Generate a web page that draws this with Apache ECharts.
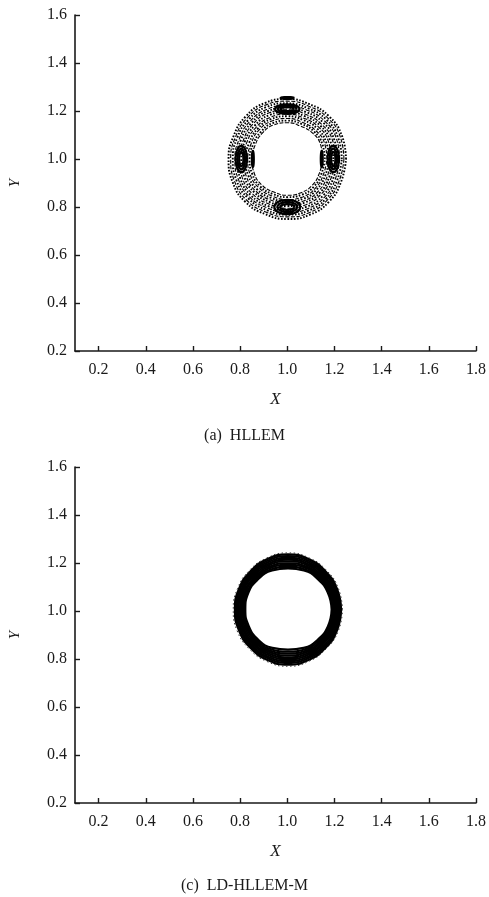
<!DOCTYPE html>
<html>
<head>
<meta charset="utf-8">
<script src="https://cdn.jsdelivr.net/npm/echarts@6/dist/echarts.min.js"></script>
<style>
  html, body { margin: 0; padding: 0; background: #fff; }
  #chart { width: 489px; height: 897px; }
</style>
</head>
<body>
<div id="chart"></div>
<script>
// Tick values shared by both panels
const xTicks = [0.2, 0.4, 0.6, 0.8, 1.0, 1.2, 1.4, 1.6, 1.8];
const yTicks = [0.2, 0.4, 0.6, 0.8, 1.0, 1.2, 1.4, 1.6];

// Contour radii sampled every 22.5 degrees, counter-clockwise from +X
const sampleAngles = [0, 22.5, 45, 67.5, 90, 112.5, 135, 157.5, 180, 202.5, 225, 247.5, 270, 292.5, 315, 337.5];

// (a) HLLEM: ring of density contours around (1.0, 1.0)
const hllemCenter = [1.0, 1.0];
const hllemRings = [
  [0.150, 0.153, 0.152, 0.148, 0.151, 0.153, 0.151, 0.148, 0.150, 0.152, 0.153, 0.149, 0.151, 0.152, 0.152, 0.148],
  [0.159, 0.161, 0.161, 0.158, 0.160, 0.162, 0.159, 0.157, 0.160, 0.161, 0.162, 0.158, 0.159, 0.161, 0.161, 0.157],
  [0.168, 0.171, 0.169, 0.166, 0.169, 0.171, 0.170, 0.166, 0.168, 0.170, 0.170, 0.167, 0.169, 0.171, 0.170, 0.166],
  [0.177, 0.179, 0.179, 0.176, 0.178, 0.180, 0.178, 0.175, 0.178, 0.179, 0.180, 0.176, 0.177, 0.179, 0.178, 0.175],
  [0.186, 0.189, 0.188, 0.184, 0.187, 0.188, 0.187, 0.185, 0.186, 0.188, 0.189, 0.185, 0.187, 0.188, 0.188, 0.184],
  [0.195, 0.197, 0.197, 0.193, 0.196, 0.198, 0.196, 0.194, 0.195, 0.197, 0.197, 0.194, 0.196, 0.196, 0.197, 0.193],
  [0.204, 0.207, 0.205, 0.202, 0.205, 0.207, 0.206, 0.202, 0.204, 0.206, 0.207, 0.203, 0.205, 0.206, 0.205, 0.202],
  [0.213, 0.215, 0.215, 0.211, 0.214, 0.216, 0.214, 0.212, 0.213, 0.215, 0.216, 0.212, 0.213, 0.215, 0.215, 0.211],
  [0.222, 0.225, 0.224, 0.220, 0.223, 0.224, 0.223, 0.220, 0.222, 0.224, 0.225, 0.221, 0.223, 0.224, 0.224, 0.220],
  [0.231, 0.233, 0.233, 0.229, 0.232, 0.234, 0.232, 0.230, 0.231, 0.233, 0.233, 0.230, 0.232, 0.233, 0.233, 0.229],
  [0.240, 0.243, 0.242, 0.238, 0.241, 0.243, 0.241, 0.238, 0.240, 0.242, 0.243, 0.239, 0.241, 0.242, 0.241, 0.238],
  [0.249, 0.251, 0.251, 0.247, 0.250, 0.252, 0.250, 0.247, 0.249, 0.251, 0.252, 0.248, 0.250, 0.251, 0.251, 0.247]
];
// Small closed contours (local extrema) on the ring: centre and semi-axes
const hllemSpotX  = [0.805, 0.805, 0.805, 1.195, 1.195, 1.195, 1.000, 1.000, 1.000, 1.000, 1.000, 1.000, 0.854, 1.146, 1.000];
const hllemSpotY  = [1.000, 1.000, 1.000, 1.000, 1.000, 1.000, 1.208, 1.208, 1.208, 0.800, 0.800, 0.800, 1.000, 1.000, 1.254];
const hllemSpotRx = [0.024, 0.016, 0.009, 0.024, 0.016, 0.009, 0.052, 0.040, 0.028, 0.055, 0.042, 0.030, 0.004, 0.004, 0.030];
const hllemSpotRy = [0.055, 0.043, 0.030, 0.055, 0.043, 0.030, 0.020, 0.014, 0.008, 0.030, 0.021, 0.012, 0.034, 0.034, 0.004];

// (c) LD-HLLEM-M: tightly packed contours around (1.003, 1.006)
const ldCenter = [1.003, 1.006];
const ldRings = [
  [0.185, 0.183, 0.179, 0.176, 0.171, 0.176, 0.179, 0.182, 0.181, 0.180, 0.178, 0.173, 0.167, 0.173, 0.178, 0.183],
  [0.190, 0.188, 0.185, 0.182, 0.178, 0.182, 0.185, 0.187, 0.187, 0.186, 0.184, 0.180, 0.175, 0.180, 0.184, 0.188],
  [0.195, 0.194, 0.191, 0.189, 0.186, 0.189, 0.191, 0.193, 0.192, 0.191, 0.190, 0.187, 0.183, 0.187, 0.190, 0.194],
  [0.200, 0.199, 0.196, 0.195, 0.193, 0.195, 0.196, 0.198, 0.198, 0.197, 0.196, 0.193, 0.191, 0.193, 0.196, 0.199],
  [0.205, 0.204, 0.202, 0.202, 0.201, 0.202, 0.202, 0.204, 0.203, 0.203, 0.202, 0.200, 0.199, 0.200, 0.202, 0.204],
  [0.210, 0.209, 0.208, 0.208, 0.208, 0.208, 0.208, 0.209, 0.209, 0.208, 0.207, 0.207, 0.206, 0.207, 0.207, 0.209],
  [0.215, 0.215, 0.214, 0.215, 0.215, 0.215, 0.214, 0.214, 0.214, 0.214, 0.213, 0.214, 0.214, 0.214, 0.213, 0.215],
  [0.220, 0.220, 0.219, 0.221, 0.223, 0.221, 0.219, 0.220, 0.220, 0.219, 0.219, 0.220, 0.222, 0.220, 0.219, 0.220],
  [0.225, 0.225, 0.225, 0.228, 0.230, 0.228, 0.225, 0.225, 0.225, 0.225, 0.225, 0.227, 0.230, 0.227, 0.225, 0.225]
];
const ldOuterRing = [0.231, 0.231, 0.231, 0.233, 0.236, 0.233, 0.231, 0.231, 0.232, 0.233, 0.232, 0.234, 0.236, 0.233, 0.230, 0.231];

const captions = ['(a)  HLLEM', '(c)  LD-HLLEM-M'];

const FONT = 'Liberation Serif';
const INK = '#1a1a1a';

// Closed polyline through radii given at sampleAngles
function loopFromRadii(center, radii) {
  const pts = radii.map((r, i) => {
    const a = sampleAngles[i] * Math.PI / 180;
    return [center[0] + r * Math.cos(a), center[1] + r * Math.sin(a)];
  });
  pts.push(pts[0]);
  return pts;
}
// Closed elliptical loop for a small contour spot
function loopFromSpot(cx, cy, rx, ry) {
  const pts = sampleAngles.map(d => {
    const a = d * Math.PI / 180;
    return [cx + rx * Math.cos(a), cy + ry * Math.sin(a)];
  });
  pts.push(pts[0]);
  return pts;
}

function contourSeries(data, gridIdx, width, type, color) {
  return {
    type: 'line', xAxisIndex: gridIdx, yAxisIndex: gridIdx,
    data: data, showSymbol: false, smooth: 0.5, silent: true,
    lineStyle: { color: color || '#000', width: width, type: type || 'solid' },
    z: 3
  };
}

const series = [];
hllemRings.forEach((r, i) => {
  const dotted = i % 2 === 1;
  series.push(contourSeries(loopFromRadii(hllemCenter, r), 0, dotted ? 1.9 : 1.1,
    dotted ? [1.6, 1.6] : [4, 1.5], '#000'));
});
hllemSpotX.forEach((cx, i) => {
  series.push(contourSeries(loopFromSpot(cx, hllemSpotY[i], hllemSpotRx[i], hllemSpotRy[i]), 0, 2.2, 'solid', '#000'));
});
ldRings.forEach(r => {
  series.push(contourSeries(loopFromRadii(ldCenter, r), 1, 2.2, 'solid', '#000'));
});
series.push(contourSeries(loopFromRadii(ldCenter, ldOuterRing), 1, 1.0, [1.5, 2.5], '#333'));

function xAxisFor(gridIdx) {
  return {
    type: 'value', gridIndex: gridIdx, min: 0.1, max: 1.8,
    name: 'X', nameLocation: 'middle', nameGap: 40,
    nameTextStyle: { fontFamily: FONT, fontStyle: 'italic', fontSize: 17, color: INK },
    axisLine: { show: true, onZero: false, lineStyle: { color: INK, width: 1.6 } },
    axisTick: { show: true, inside: true, length: 5, customValues: xTicks, lineStyle: { color: INK, width: 1.4 } },
    axisLabel: { customValues: xTicks, margin: 11, fontFamily: FONT, fontSize: 16, color: INK,
      formatter: v => v.toFixed(1) },
    splitLine: { show: false }
  };
}
function yAxisFor(gridIdx) {
  return {
    type: 'value', gridIndex: gridIdx, min: 0.2, max: 1.6, interval: 0.2,
    name: 'Y', nameLocation: 'middle', nameGap: 52, nameRotate: 90,
    nameTextStyle: { fontFamily: FONT, fontStyle: 'italic', fontSize: 15, color: INK },
    axisLine: { show: true, onZero: false, lineStyle: { color: INK, width: 1.6 } },
    axisTick: { show: true, inside: true, length: 5, lineStyle: { color: INK, width: 1.4 } },
    axisLabel: { margin: 8, fontFamily: FONT, fontSize: 16, color: INK,
      formatter: v => v.toFixed(1) },
    splitLine: { show: false }
  };
}

const chart = echarts.init(document.getElementById('chart'), null, { renderer: 'canvas' });
chart.setOption({
  animation: false,
  backgroundColor: '#fff',
  grid: [
    { left: 70, top: 15, width: 409, height: 336 },
    { left: 70, top: 467, width: 409, height: 336 }
  ],
  xAxis: [xAxisFor(0), xAxisFor(1)],
  yAxis: [yAxisFor(0), yAxisFor(1)],
  series: series,
  graphic: [
    { type: 'text', left: 'center', top: 428, style: { text: captions[0], fontFamily: FONT, fontSize: 16, fill: INK } },
    { type: 'text', left: 'center', top: 878, style: { text: captions[1], fontFamily: FONT, fontSize: 16, fill: INK } }
  ]
});
</script>
</body>
</html>
